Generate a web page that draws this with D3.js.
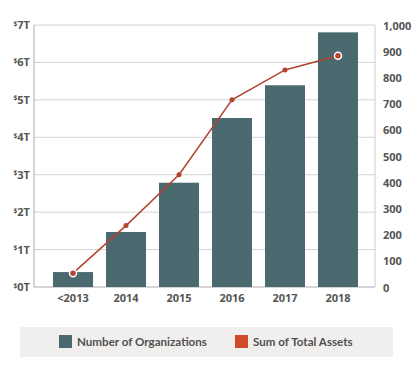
<!DOCTYPE html>
<html>
  <head>
    <script src="https://d3js.org/d3.v7.min.js"></script>
    <style>
      body { margin: 0; background: #fff; }
    </style>
  </head>
  <body>
    <div id="chart"></div>
    <script>
// Data
const years = ["<2013", "2014", "2015", "2016", "2017", "2018"];
const orgCounts = [57, 210, 398, 645, 770, 972];      // right axis
const totalAssets = [0.37, 1.64, 3.0, 5.0, 5.8, 6.18]; // trillions, left axis
const leftTicks = [0, 1, 2, 3, 4, 5, 6, 7];
const rightTicks = [0, 100, 200, 300, 400, 500, 600, 700, 800, 900, 1000];
const legendItems = ["Number of Organizations", "Sum of Total Assets"];

const width = 420;
const height = 375;
const marginTop = 25;
const marginBottom = 88;
const marginLeft = 34;
const marginRight = 45;

const barColor = "#4a6a70";
const lineColor = "#b3432f";
const gridColor = "#d4d4d4";
const textColor = "#555";

function createChart() {
  const x = d3.scaleBand()
    .domain(years)
    .range([marginLeft + 1, width - marginRight + 1])
    .paddingInner(0.245)
    .paddingOuter(0.34);

  const yLeft = d3.scaleLinear()
    .domain([0, 7])
    .range([height - marginBottom, marginTop]);

  const yRight = d3.scaleLinear()
    .domain([0, 1000])
    .range([height - marginBottom, marginTop]);

  const svg = d3.select("#chart").append("svg")
    .attr("width", width)
    .attr("height", height)
    .attr("viewBox", [0, 0, width, height])
    .style("font-family", "'Open Sans', sans-serif");

  // Grid lines
  svg.append("g")
    .selectAll("line")
    .data(leftTicks)
    .join("line")
      .attr("x1", marginLeft)
      .attr("x2", width - marginRight)
      .attr("y1", d => yLeft(d))
      .attr("y2", d => yLeft(d))
      .attr("stroke", d => d === 0 ? "#aaa" : gridColor)
      .attr("stroke-width", 1);

  // Side axis lines
  svg.append("line")
    .attr("x1", marginLeft).attr("x2", marginLeft)
    .attr("y1", marginTop).attr("y2", height - marginBottom)
    .attr("stroke", "#aaa");
  svg.append("line")
    .attr("x1", width - marginRight).attr("x2", width - marginRight)
    .attr("y1", marginTop).attr("y2", height - marginBottom)
    .attr("stroke", "#ccc");

  // Left tick labels ($ superscript)
  const lt = svg.append("g")
    .selectAll("text")
    .data(leftTicks)
    .join("text")
      .attr("x", marginLeft - 4)
      .attr("y", d => yLeft(d) + 4)
      .attr("text-anchor", "end")
      .attr("fill", textColor)
      .style("font-size", "11px")
      .style("font-weight", "bold");
  lt.append("tspan")
    .attr("font-size", "6.5px")
    .attr("dy", -3.5)
    .text("$");
  lt.append("tspan")
    .attr("dy", 3.5)
    .text(d => d + "T");

  // Right tick labels
  svg.append("g")
    .selectAll("text")
    .data(rightTicks)
    .join("text")
      .attr("x", width - marginRight + 8)
      .attr("y", d => yRight(d) + 4.5)
      .attr("fill", textColor)
      .style("font-size", "11px")
      .style("font-weight", "bold")
      .text(d => d3.format(",")(d));

  // X labels
  svg.append("g")
    .selectAll("text")
    .data(years)
    .join("text")
      .attr("x", d => x(d) + x.bandwidth() / 2)
      .attr("y", height - marginBottom + 15)
      .attr("text-anchor", "middle")
      .attr("fill", textColor)
      .style("font-size", "11px")
      .style("font-weight", "bold")
      .text(d => d);

  // Bars
  svg.append("g")
    .selectAll("rect")
    .data(orgCounts)
    .join("rect")
      .attr("x", (d, i) => x(years[i]))
      .attr("y", d => yRight(d))
      .attr("width", x.bandwidth())
      .attr("height", d => yRight(0) - yRight(d))
      .attr("fill", barColor);

  // Line
  const line = d3.line()
    .x((d, i) => x(years[i]) + x.bandwidth() / 2)
    .y(d => yLeft(d));

  svg.append("path")
    .datum(totalAssets)
    .attr("fill", "none")
    .attr("stroke", lineColor)
    .attr("stroke-width", 1.5)
    .attr("d", line);

  const last = totalAssets.length - 1;
  svg.append("g")
    .selectAll("circle")
    .data(totalAssets)
    .join("circle")
      .attr("cx", (d, i) => x(years[i]) + x.bandwidth() / 2)
      .attr("cy", d => yLeft(d))
      .attr("r", (d, i) => (i === 0 || i === last) ? 3.5 : 2.5)
      .attr("fill", lineColor)
      .attr("stroke", (d, i) => (i === 0 || i === last) ? "#fff" : "none")
      .attr("stroke-width", 1.5);

  // Legend
  const legend = svg.append("g");
  legend.append("rect")
    .attr("x", 20)
    .attr("y", 327)
    .attr("width", 373)
    .attr("height", 30)
    .attr("fill", "#f1efed");

  const legendColors = [barColor, "#cf4a2a"];
  const legendX = [59, 235];
  legendItems.forEach((name, i) => {
    legend.append("rect")
      .attr("x", legendX[i])
      .attr("y", 335)
      .attr("width", 13)
      .attr("height", 13)
      .attr("fill", legendColors[i]);
    legend.append("text")
      .attr("x", legendX[i] + 18)
      .attr("y", 345.5)
      .attr("fill", "#505050")
      .style("font-family", "Lato, sans-serif")
      .style("font-size", "11.6px")
      .style("font-weight", "bold")
      .text(name);
  });
}

createChart();
    </script>
  </body>
</html>
